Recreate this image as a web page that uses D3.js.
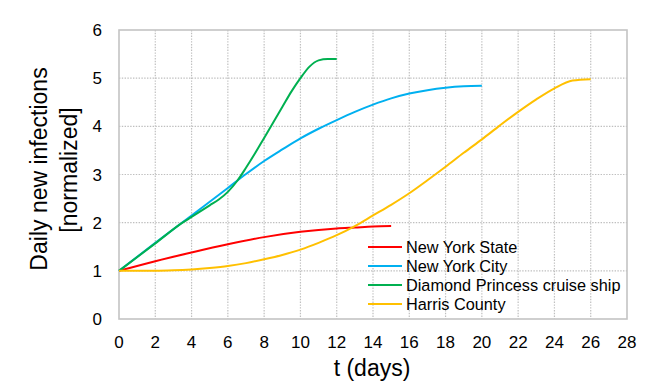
<!DOCTYPE html>
<html lang="en">
<head>
    <meta charset="UTF-8">
    <title>Daily new infections</title>
    <script src="https://d3js.org/d3.v7.min.js"></script>
    <style>
        body {
            margin: 0;
            background-color: #ffffff;
            font-family: "Liberation Sans", Arial, sans-serif;
        }

        svg {
            display: block;
        }

        .grid line {
            stroke: #bfbfbf;
            stroke-width: 1.2px;
            stroke-dasharray: 1.4, 1.4;
        }

        .frame {
            fill: none;
            stroke: #c4c4c4;
            stroke-width: 1.6px;
        }

        .tick-label {
            font-size: 17px;
            fill: #000;
        }

        .axis-title {
            font-size: 23px;
            fill: #000;
        }

        .legend-text {
            font-size: 16.3px;
            fill: #000;
        }

        .line {
            fill: none;
            stroke-width: 2px;
            stroke-linejoin: round;
        }
    </style>
</head>
<body>
<svg width="665" height="389"></svg>
<script>
    // values
    const seriesNames = ["New York State", "New York City", "Diamond Princess cruise ship", "Harris County"];

    const nyStateDays = [0, 2, 4, 6, 8, 10, 12, 13, 14, 15];
    const nyStateValues = [1, 1.2, 1.38, 1.55, 1.7, 1.81, 1.88, 1.9, 1.92, 1.93];

    const nyCityDays = [0, 2, 4, 6, 7, 8, 9, 10, 11, 12, 13, 14, 15, 16, 17, 18, 19, 20];
    const nyCityValues = [1, 1.58, 2.15, 2.72, 3.01, 3.28, 3.52, 3.75, 3.95, 4.13, 4.3, 4.45, 4.58, 4.68, 4.75, 4.8, 4.83, 4.84];

    const diamondDays = [0, 2, 3.5, 4, 5, 5.5, 6, 6.5, 7, 7.5, 8, 8.5, 9, 9.5, 10, 10.5, 11, 11.5, 12];
    const diamondValues = [1, 1.57, 2.0, 2.12, 2.36, 2.48, 2.64, 2.86, 3.14, 3.44, 3.76, 4.08, 4.4, 4.72, 5.0, 5.24, 5.37, 5.4, 5.4];

    const harrisDays = [0, 1, 2, 3, 4, 5, 6, 7, 8, 9, 10, 11, 12, 13, 14, 15, 16, 17, 18, 19, 20, 21, 22, 23, 24, 25, 26];
    const harrisValues = [1, 1, 1, 1.01, 1.03, 1.06, 1.1, 1.16, 1.24, 1.33, 1.44, 1.58, 1.74, 1.93, 2.15, 2.37, 2.61, 2.88, 3.16, 3.45, 3.73, 4.02, 4.3, 4.56, 4.79, 4.95, 4.98];

    const xTicks = d3.range(0, 29, 2);
    const yTicks = [0, 1, 2, 3, 4, 5, 6];

    const colors = ["#ff0000", "#00b0f0", "#00b050", "#ffc000"];

    const seriesData = [
        [nyStateDays, nyStateValues],
        [nyCityDays, nyCityValues],
        [diamondDays, diamondValues],
        [harrisDays, harrisValues]
    ].map(([t, v]) => t.map((d, i) => ({t: d, v: v[i]})));

    const svg = d3.select("svg"),
        margin = {top: 30, right: 38, bottom: 70, left: 119},
        width = +svg.attr("width") - margin.left - margin.right,
        height = +svg.attr("height") - margin.top - margin.bottom,
        g = svg.append("g").attr("transform", `translate(${margin.left},${margin.top})`);

    const x = d3.scaleLinear().domain([0, 28]).range([0, width]),
        y = d3.scaleLinear().domain([0, 6]).range([height, 0]);

    // dotted grid
    const grid = g.append("g").attr("class", "grid");
    grid.selectAll(".vgrid")
        .data(xTicks.slice(1, -1))
        .join("line")
        .attr("x1", d => x(d)).attr("x2", d => x(d))
        .attr("y1", 0).attr("y2", height);
    grid.selectAll(".hgrid")
        .data(yTicks.slice(1, -1))
        .join("line")
        .attr("x1", 0).attr("x2", width)
        .attr("y1", d => y(d)).attr("y2", d => y(d));

    g.append("rect")
        .attr("class", "frame")
        .attr("width", width)
        .attr("height", height);

    // tick labels
    g.selectAll(".xlab")
        .data(xTicks)
        .join("text")
        .attr("class", "tick-label")
        .attr("x", d => x(d))
        .attr("y", height + 29)
        .attr("text-anchor", "middle")
        .text(d => d);

    g.selectAll(".ylab")
        .data(yTicks)
        .join("text")
        .attr("class", "tick-label")
        .attr("x", -17)
        .attr("y", d => y(d) + 6)
        .attr("text-anchor", "end")
        .text(d => d);

    svg.append("text")
        .attr("class", "axis-title")
        .attr("x", margin.left + width / 2 - 1)
        .attr("y", 376)
        .attr("text-anchor", "middle")
        .text("t (days)");

    svg.append("text")
        .attr("class", "axis-title")
        .attr("transform", "translate(47,169) rotate(-90)")
        .attr("text-anchor", "middle")
        .text("Daily new infections");

    svg.append("text")
        .attr("class", "axis-title")
        .attr("transform", "translate(77,170) rotate(-90)")
        .attr("text-anchor", "middle")
        .text("[normalized]");

    const line = d3.line()
        .curve(d3.curveMonotoneX)
        .x(d => x(d.t))
        .y(d => y(d.v));

    g.selectAll(".line")
        .data(seriesData)
        .join("path")
        .attr("class", "line")
        .style("stroke", (d, i) => colors[i])
        .attr("d", line);

    // legend
    const legend = svg.append("g").attr("transform", "translate(368,247)");
    seriesNames.forEach((name, i) => {
        const row = legend.append("g").attr("transform", `translate(0,${i * 19})`);
        row.append("line")
            .attr("x1", 0).attr("x2", 34)
            .attr("y1", 0).attr("y2", 0)
            .style("stroke", colors[i])
            .style("stroke-width", 2);
        row.append("text")
            .attr("class", "legend-text")
            .attr("x", 38)
            .attr("y", 6)
            .text(name);
    });
</script>
</body>
</html>
